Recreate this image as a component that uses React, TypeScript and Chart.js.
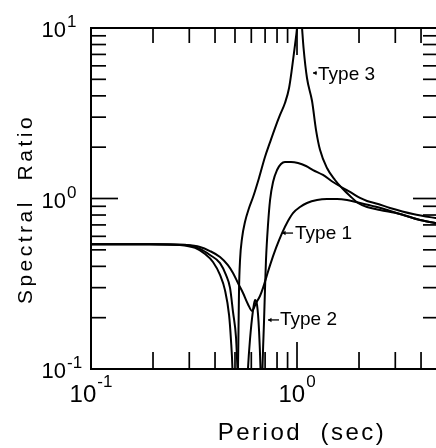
import React, { useEffect, useRef } from 'react';
import { Chart, registerables } from 'chart.js';

Chart.register(...registerables);

// ---- Data (period in seconds, spectral ratio) ----
const type1Period = [0.1, 0.193, 0.286, 0.338, 0.378, 0.423, 0.462, 0.489, 0.517, 0.547, 0.578, 0.605, 0.632, 0.661, 0.684, 0.715, 0.74, 0.791, 0.846, 0.904, 0.956, 1.034, 1.118, 1.251, 1.398, 1.564, 1.749, 2.022, 2.445, 3.162, 3.955, 5.0];
const type1Ratio = [0.54, 0.54, 0.534, 0.52, 0.492, 0.454, 0.407, 0.366, 0.319, 0.279, 0.24, 0.219, 0.243, 0.268, 0.299, 0.356, 0.407, 0.513, 0.627, 0.738, 0.822, 0.891, 0.941, 0.98, 0.993, 0.993, 0.98, 0.941, 0.891, 0.811, 0.748, 0.709];

const type2Period = [0.1, 0.193, 0.286, 0.338, 0.378, 0.423, 0.452, 0.473, 0.489, 0.506, 0.514, 0.547, 0.578, 0.591, 0.612, 0.625, 0.64, 0.654, 0.665, 0.673, 0.68, 0.692, 0.699, 0.707, 0.723, 0.74, 0.765, 0.8, 0.836, 0.874, 0.935, 1.011, 1.106, 1.196, 1.337, 1.495, 1.673, 1.809, 2.022, 2.187, 2.473, 2.828, 3.656, 5.0];
const type2Ratio = [0.54, 0.54, 0.536, 0.506, 0.466, 0.418, 0.356, 0.299, 0.216, 0.152, 0.1, 0.02, 0.1, 0.148, 0.222, 0.254, 0.237, 0.169, 0.1, 0.05, 0.1, 0.194, 0.29, 0.436, 0.699, 0.98, 1.249, 1.469, 1.592, 1.636, 1.636, 1.614, 1.551, 1.469, 1.374, 1.249, 1.152, 1.092, 1.007, 0.967, 0.928, 0.88, 0.811, 0.759];

const type3Period = [0.1, 0.193, 0.27, 0.32, 0.358, 0.391, 0.423, 0.447, 0.468, 0.478, 0.486, 0.497, 0.517, 0.52, 0.523, 0.529, 0.541, 0.559, 0.585, 0.612, 0.654, 0.699, 0.74, 0.782, 0.827, 0.874, 0.915, 0.946, 0.978, 1.0, 1.028, 1.058, 1.076, 1.118, 1.183, 1.237, 1.293, 1.398, 1.529, 1.653, 1.809, 1.977, 2.187, 2.529, 3.162, 3.955, 5.0];
const type3Ratio = [0.54, 0.54, 0.534, 0.513, 0.472, 0.424, 0.356, 0.29, 0.207, 0.148, 0.1, 0.03, 0.1, 0.169, 0.29, 0.436, 0.586, 0.728, 0.88, 1.02, 1.32, 1.75, 2.14, 2.59, 3.09, 3.63, 4.45, 5.83, 7.95, 10, 16, 10, 7.63, 5.09, 3.73, 2.52, 1.93, 1.51, 1.284, 1.152, 1.034, 0.941, 0.891, 0.856, 0.811, 0.748, 0.709];

// ---- Axes ----
const xMin = 0.1;
const xMax = 5;
const yMin = 0.1;
const yMax = 10;
const xMinorTicks = [0.2, 0.3, 0.4, 0.5, 0.6, 0.7, 0.8, 0.9, 2, 3, 4];
const xMajorTicks = [1];
const yMinorTicks = [0.2, 0.3, 0.4, 0.5, 0.6, 0.7, 0.8, 0.9, 2, 3, 4, 5, 6, 7, 8, 9];
const yMajorTicks = [1];
const xTickValues = [0.1, 1];
const xTickExponents = ['-1', '0'];
const yTickValues = [10, 1, 0.1];
const yTickExponents = ['1', '0', '-1'];
const xTitle = 'Period  (sec)';
const yTitle = 'Spectral  Ratio';

// ---- Annotations (arrow tip in data coords) ----
const noteLabels = ['Type 3', 'Type 1', 'Type 2'];
const notePeriods = [1.196, 0.846, 0.723];
const noteRatios = [5.45, 0.627, 0.194];

const FONT = "'Liberation Sans', Arial, Helvetica, sans-serif";

const overlay = {
  id: 'overlay',
  afterDraw(chart: any) {
    const { ctx, chartArea } = chart;
    const { left, right, top, bottom } = chartArea;
    const xs = chart.scales.x;
    const ys = chart.scales.y;
    ctx.save();
    ctx.strokeStyle = '#000';
    ctx.fillStyle = '#000';
    ctx.lineCap = 'butt';
    const seg = (x1: number, y1: number, x2: number, y2: number) => {
      ctx.beginPath();
      ctx.moveTo(x1, y1);
      ctx.lineTo(x2, y2);
      ctx.stroke();
    };
    // frame
    ctx.lineWidth = 2;
    ctx.strokeRect(left, top, right - left, bottom - top);
    // inward ticks
    ctx.lineWidth = 1.7;
    yMinorTicks.forEach((v) => {
      const p = ys.getPixelForValue(v);
      seg(left, p, left + 15, p);
      seg(right, p, right - 18, p);
    });
    yMajorTicks.forEach((v) => {
      const p = ys.getPixelForValue(v);
      seg(left, p, left + 27, p);
      seg(right, p, right - 28, p);
    });
    xMinorTicks.forEach((v) => {
      const p = xs.getPixelForValue(v);
      seg(p, bottom, p, bottom - 17);
      seg(p, top, p, top + 15);
    });
    xMajorTicks.forEach((v) => {
      const p = xs.getPixelForValue(v);
      seg(p, bottom, p, bottom - 27);
      seg(p, top, p, top + 27);
    });

    // y tick labels
    ctx.textBaseline = 'alphabetic';
    yTickValues.forEach((v, i) => {
      const p = ys.getPixelForValue(v);
      ctx.font = `22px ${FONT}`;
      ctx.textAlign = 'right';
      ctx.fillText('10', left - 25, p + 9);
      ctx.font = `17px ${FONT}`;
      ctx.textAlign = 'left';
      ctx.fillText(yTickExponents[i], left - 24, p - 1);
    });
    // x tick labels
    xTickValues.forEach((v, i) => {
      const p = xs.getPixelForValue(v);
      ctx.font = `24px ${FONT}`;
      const wb = ctx.measureText('10').width;
      ctx.font = `17px ${FONT}`;
      const we = ctx.measureText(xTickExponents[i]).width;
      const start = p - (wb + 1 + we) / 2;
      ctx.textAlign = 'left';
      ctx.font = `24px ${FONT}`;
      ctx.fillText('10', start, bottom + 33);
      ctx.font = `17px ${FONT}`;
      ctx.fillText(xTickExponents[i], start + wb + 1, bottom + 18);
    });

    // axis titles
    ctx.save();
    ctx.font = `24px ${FONT}`;
    (ctx as any).letterSpacing = '2.5px';
    ctx.textAlign = 'center';
    ctx.fillText(xTitle, 302, 440);
    ctx.restore();

    ctx.save();
    ctx.font = `21px ${FONT}`;
    (ctx as any).letterSpacing = '3.5px';
    ctx.textAlign = 'center';
    ctx.translate(32, 209);
    ctx.rotate(-Math.PI / 2);
    ctx.fillText(yTitle, 0, 0);
    ctx.restore();

    // annotations
    const arrowLen = [4, 11, 11];
    const textGap = [5, 13, 12];
    const baseOff = [7, 6, 5];
    noteLabels.forEach((label, i) => {
      const tx = xs.getPixelForValue(notePeriods[i]);
      const ty = ys.getPixelForValue(noteRatios[i]);
      ctx.lineWidth = 1.3;
      seg(tx, ty, tx + arrowLen[i], ty);
      ctx.beginPath();
      ctx.moveTo(tx, ty);
      ctx.lineTo(tx + 3.5, ty - 2.2);
      ctx.lineTo(tx + 3.5, ty + 2.2);
      ctx.closePath();
      ctx.fill();
      ctx.font = `19px ${FONT}`;
      ctx.textAlign = 'left';
      ctx.fillText(label, tx + textGap[i], ty + baseOff[i]);
    });
    ctx.restore();
  },
};

function series(label: string, px: number[], py: number[]) {
  return {
    label,
    data: px.map((p, i) => ({ x: p, y: py[i] })),
    showLine: true,
    borderColor: '#000',
    backgroundColor: '#000',
    borderWidth: 2,
    pointRadius: 0,
    cubicInterpolationMode: 'monotone' as const,
    fill: false,
    clip: 0,
  };
}

export default function App() {
  const ref = useRef<HTMLCanvasElement>(null);
  useEffect(() => {
    document.body.style.overflow = 'hidden';
    const chart = new Chart(ref.current as HTMLCanvasElement, {
      type: 'scatter',
      data: {
        datasets: [
          series('Type 1', type1Period, type1Ratio),
          series('Type 2', type2Period, type2Ratio),
          series('Type 3', type3Period, type3Ratio),
        ],
      },
      options: {
        responsive: false,
        animation: false,
        devicePixelRatio: 1,
        layout: { padding: { left: 91, top: 28, right: 5, bottom: 79 } },
        scales: {
          x: { type: 'logarithmic', min: xMin, max: xMax, display: false },
          y: { type: 'logarithmic', min: yMin, max: yMax, display: false },
        },
        plugins: { legend: { display: false }, tooltip: { enabled: false } },
      },
      plugins: [overlay],
    } as any);
    return () => chart.destroy();
  }, []);
  return (
    <div style={{ position: 'fixed', left: 0, top: 0, width: 436, height: 448, overflow: 'hidden', background: '#fff' }}>
      <canvas ref={ref} width={446} height={448} style={{ display: 'block', width: 446, height: 448 }} />
    </div>
  );
}
